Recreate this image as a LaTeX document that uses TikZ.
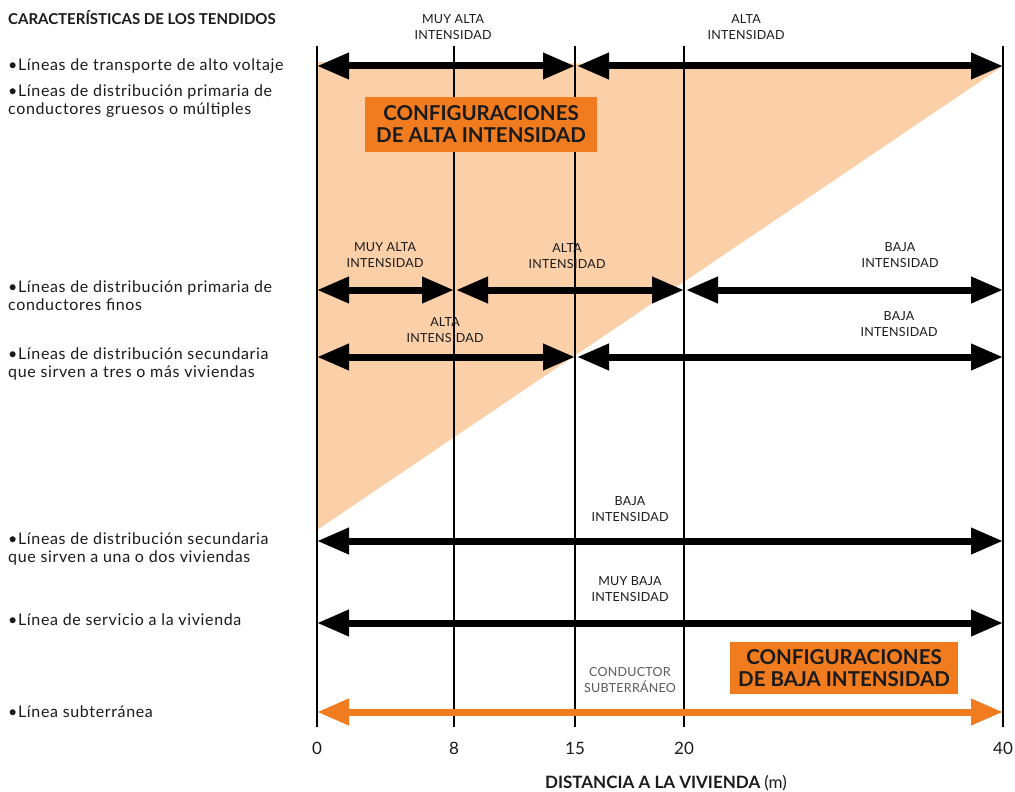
\documentclass[tikz,border=0pt]{standalone}
\usepackage{fontspec}
\setmainfont{Lato}
\usetikzlibrary{arrows.meta}
\definecolor{peach}{HTML}{FBCFA8}
\definecolor{orng}{HTML}{F07C1F}
\definecolor{txt}{HTML}{1A1A1A}
\begin{document}
\begin{tikzpicture}[x=1pt,y=-1pt,
  lbl/.style={font=\addfontfeatures{LetterSpace=2}\fontsize{12.5}{16.5}\selectfont, align=center, inner sep=0, text=txt},
  lefttxt/.style={font=\addfontfeatures{LetterSpace=4}\fontsize{16}{18}\selectfont, align=left, anchor=west, inner sep=0, text=txt},
  arr/.style={line width=7pt, {Triangle[length=32pt,width=25pt]}-{Triangle[length=32pt,width=25pt]}},
  oarr/.style={arr, draw=orng},
  vline/.style={line width=1.8pt},
  cfgbox/.style={fill=orng, font=\bfseries\fontsize{20.5}{22}\selectfont, align=center, text=txt, inner sep=0},
  axnum/.style={font=\fontsize{17}{18}\selectfont, inner sep=0, text=txt}]
\useasboundingbox (0,0) rectangle (1015,792);
% triangle
\fill[peach] (317,62) -- (1003,66) -- (317,530) -- cycle;
% columns
\foreach \n/\x in {a/317,b/454,c/575,d/684,e/1003}{
  \coordinate (\n top) at (\x,46);
  \coordinate (\n bot) at (\x,727);
  \draw[vline] (\n top) -- (\n bot);
}
% header
\node[anchor=west, inner sep=0, font=\bfseries\fontsize{15}{17}\selectfont, text=txt] (hdr) at (8,18) {CARACTERÍSTICAS DE LOS TENDIDOS};
% left texts
\node[lefttxt] (t1) at (8,66) {•Líneas de transporte de alto voltaje};
\node[lefttxt] (t2) at (8,101) {•Líneas de distribución primaria de\\conductores gruesos o múltiples};
\node[lefttxt] (t3) at (8,296) {•Líneas de distribución primaria de\\conductores finos};
\node[lefttxt] (t4) at (8,364) {•Líneas de distribución secundaria\\que sirven a tres o más viviendas};
\node[lefttxt] (t5) at (8,549) {•Líneas de distribución secundaria\\que sirven a una o dos viviendas};
\node[lefttxt] (t6) at (8,620) {•Línea de servicio a la vivienda};
\node[lefttxt] (t7) at (8,712) {•Línea subterránea};
% row coordinates
\foreach \r/\y in {1/66,3/290,4/357,5/541,6/623,7/712}{
  \foreach \n/\x in {a/317,b/454,c/575,d/684,e/1003}{
    \coordinate (r\r\n) at (\x,\y);
  }
}
% labels
\node[lbl] (l1a) at (453,27) {MUY ALTA\\INTENSIDAD};
\node[lbl] (l1b) at (746,27) {ALTA\\INTENSIDAD};
\node[lbl] (l3a) at (385,255) {MUY ALTA\\INTENSIDAD};
\node[lbl] (l3b) at (567,256) {ALTA\\INTENSIDAD};
\node[lbl] (l3c) at (900,255) {BAJA\\INTENSIDAD};
\node[lbl] (l4a) at (445,330) {ALTA\\INTENSIDAD};
\node[lbl] (l4b) at (899,324) {BAJA\\INTENSIDAD};
\node[lbl] (l5) at (630,509) {BAJA\\INTENSIDAD};
\node[lbl] (l6) at (630,589) {MUY BAJA\\INTENSIDAD};
\node[lbl, text=black!65] (l7) at (630,680) {CONDUCTOR\\SUBTERRÁNEO};
% arrows
\draw[arr] (r1a) -- (r1c);
\draw[arr] ([xshift=2pt]r1c) -- (r1e);
\draw[arr] (r3a) -- (r3b);
\draw[arr] ([xshift=2pt]r3b) -- (r3d);
\draw[arr] ([xshift=2pt]r3d) -- (r3e);
\draw[arr] (r4a) -- (r4c);
\draw[arr] ([xshift=2pt]r4c) -- (r4e);
\draw[arr] (r5a) -- (r5e);
\draw[arr] (r6a) -- (r6e);
\draw[oarr] (r7a) -- (r7e);
% boxes
\node[cfgbox, minimum width=232pt, minimum height=55pt] (box1) at (481,124.5) {CONFIGURACIONES\\DE ALTA INTENSIDAD};
\node[cfgbox, minimum width=228pt, minimum height=52pt] (box2) at (844,668) {CONFIGURACIONES\\DE BAJA INTENSIDAD};
% axis
\node[axnum] (n0) at (317,748) {0};
\node[axnum] (n8) at (454,748) {8};
\node[axnum] (n15) at (575,748) {15};
\node[axnum] (n20) at (684,748) {20};
\node[axnum] (n40) at (1003,748) {40};
\node[inner sep=0, font=\bfseries\fontsize{17}{18}\selectfont, text=txt] (xlab) at (666,783) {DISTANCIA A LA VIVIENDA {\mdseries(m)}};
\end{tikzpicture}
\end{document}
